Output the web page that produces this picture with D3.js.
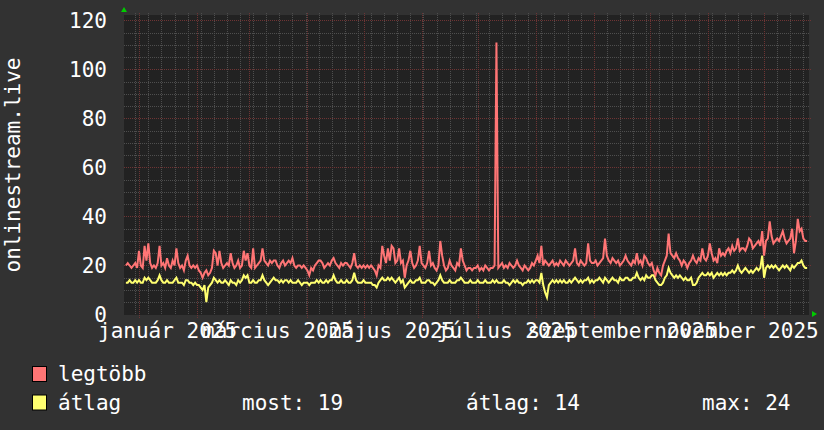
<!DOCTYPE html>
<html lang="hu">
<head>
<meta charset="UTF-8">
<title>onlinestream.live</title>
<script src="https://cdn.jsdelivr.net/npm/d3@7"></script>
<style>
  * { margin: 0; padding: 0; }
  body { background: #323232; }
  text { font-family: "DejaVu Sans Mono", monospace; fill: #ffffff; }
</style>
</head>
<body>
<script>
// napi értékek 2024-12-25-től
const startDay = new Date(Date.UTC(2024, 11, 25));

const legtobb = [
  20, 21, 20, 19, 20, 21, 19, 26, 20, 19,
  28, 22, 29, 21, 19, 20, 19, 21, 28, 20,
  21, 19, 23, 20, 19, 22, 20, 27, 21, 19,
  20, 18, 22, 24, 20, 19, 20, 19, 20, 18,
  17, 15, 17, 18, 16, 17, 19, 26, 25, 20,
  26, 21, 19, 20, 21, 20, 25, 21, 19, 20,
  22, 19, 20, 26, 22, 25, 20, 19, 27, 19,
  20, 21, 22, 27, 22, 21, 20, 22, 21, 22,
  22, 20, 19, 21, 22, 20, 21, 22, 21, 23,
  20, 19, 20, 20, 19, 20, 19, 18, 16, 19,
  18, 20, 21, 22, 22, 21, 19, 20, 21, 20,
  22, 23, 21, 20, 19, 21, 20, 21, 21, 20,
  19, 21, 25, 20, 19, 20, 19, 20, 19, 20,
  19, 20, 19, 18, 16, 20, 19, 28, 24, 21,
  27, 22, 28, 27, 21, 22, 27, 21, 22, 15,
  20, 22, 26, 21, 19, 20, 22, 28, 21, 20,
  19, 21, 26, 20, 21, 19, 18, 20, 30, 24,
  20, 18, 19, 22, 20, 19, 18, 21, 20, 27,
  22, 20, 18, 19, 19, 18, 19, 19, 20, 18,
  19, 18, 20, 19, 18, 19, 19, 20, 111, 19,
  20, 21, 19, 20, 19, 21, 20, 19, 20, 22,
  20, 19, 18, 20, 19, 18, 19, 21, 20, 22,
  24, 21, 28, 20, 22, 21, 20, 21, 22, 20,
  21, 20, 22, 21, 20, 22, 21, 20, 21, 22,
  27, 21, 20, 22, 21, 20, 21, 29, 22, 21,
  21, 22, 20, 21, 22, 23, 31, 24, 22, 21,
  23, 22, 21, 22, 20, 21, 22, 24, 22, 21,
  20, 22, 21, 25, 21, 22, 20, 24, 23, 21,
  20, 21, 18, 16, 19, 17, 16, 20, 22, 24,
  33, 25, 24, 23, 25, 23, 22, 20, 22, 21,
  19, 21, 22, 24, 22, 21, 23, 22, 27, 23,
  22, 24, 29, 25, 22, 23, 21, 27, 24, 25,
  24, 26, 27, 25, 28, 26, 27, 31, 26, 27,
  27, 26, 28, 31, 30, 27, 28, 29, 30, 28,
  34, 24, 30, 31, 38, 32, 29, 30, 31, 30,
  32, 34, 31, 29, 30, 31, 35, 25, 30, 39,
  34, 35, 31, 30, 30
];

const atlag = [
  13, 13, 14, 13, 13, 14, 13, 14, 13, 13,
  15, 14, 15, 14, 13, 13, 13, 14, 16, 14,
  13, 13, 14, 13, 13, 13, 14, 15, 13, 13,
  13, 12, 14, 14, 13, 13, 12, 13, 12, 12,
  11, 10, 12, 5, 11, 12, 13, 15, 14, 13,
  14, 13, 13, 14, 13, 12, 14, 13, 13, 12,
  14, 13, 14, 16, 15, 16, 13, 13, 14, 13,
  13, 14, 14, 16, 14, 13, 12, 13, 14, 15,
  14, 14, 13, 14, 13, 14, 14, 13, 14, 13,
  13, 13, 14, 13, 12, 13, 13, 13, 12, 13,
  13, 13, 14, 13, 14, 13, 13, 14, 13, 14,
  14, 16, 14, 13, 13, 14, 13, 13, 14, 13,
  13, 14, 17, 14, 13, 13, 13, 14, 13, 13,
  13, 13, 12, 12, 11, 13, 14, 15, 14, 14,
  15, 14, 15, 14, 13, 14, 15, 13, 14, 11,
  12, 13, 14, 13, 13, 14, 14, 15, 13, 13,
  13, 14, 14, 13, 13, 12, 13, 14, 16, 14,
  13, 13, 13, 14, 13, 13, 13, 14, 14, 15,
  14, 13, 13, 13, 14, 13, 13, 13, 14, 13,
  13, 13, 14, 13, 13, 13, 14, 13, 14, 13,
  13, 13, 14, 13, 13, 12, 13, 14, 13, 14,
  13, 13, 12, 13, 13, 14, 13, 14, 13, 14,
  14, 13, 17, 12, 9, 7, 12, 13, 14, 13,
  14, 13, 14, 13, 14, 13, 13, 14, 13, 14,
  15, 14, 13, 14, 13, 14, 14, 15, 13, 14,
  13, 14, 14, 15, 14, 13, 15, 14, 13, 14,
  15, 14, 14, 13, 15, 14, 14, 15, 15, 14,
  14, 15, 15, 17, 15, 14, 15, 14, 16, 15,
  15, 16, 16, 14, 13, 12, 12, 13, 15, 16,
  19, 17, 16, 15, 16, 15, 16, 15, 14, 15,
  14, 14, 15, 12, 12, 13, 15, 16, 17, 16,
  16, 17, 16, 17, 15, 16, 17, 16, 17, 16,
  17, 16, 17, 17, 18, 17, 18, 20, 18, 17,
  18, 19, 18, 17, 18, 17, 18, 19, 18, 19,
  24, 15, 19, 20, 19, 20, 19, 20, 19, 18,
  19, 20, 19, 20, 19, 18, 20, 19, 20, 21,
  21, 22, 20, 19, 19
];

const yTicks = [0, 20, 40, 60, 80, 100, 120];
const monthLabels = ["január 2025", "március 2025", "május 2025",
                     "július 2025", "szeptember 2025", "november 2025"];
const legendItems = ["legtöbb", "átlag"];
const stats = ["most: 19", "átlag: 14", "max: 24"];

const width = 824, height = 430;
const plotLeft = 124, plotRight = 809, plotTop = 15, plotBottom = 315;
const colRed = "#ff7575", colYellow = "#ffff70";

const svg = d3.select("body").append("svg")
    .attr("width", width).attr("height", height);

svg.append("rect").attr("width", width).attr("height", height).attr("fill", "#323232");

const x = d3.scaleUtc()
    .domain([new Date(Date.UTC(2024, 11, 24)), new Date(Date.UTC(2025, 11, 25))])
    .range([plotLeft, plotRight]);
const y = d3.scaleLinear().domain([0, 122.2]).range([314.5, plotTop]);

svg.append("rect")
    .attr("x", plotLeft).attr("y", plotTop)
    .attr("width", plotRight - plotLeft).attr("height", plotBottom - plotTop)
    .attr("fill", "#222222");

// rács
const grid = svg.append("g").attr("shape-rendering", "crispEdges");
const minorY = d3.range(5, 122, 5).filter(v => v % 20 !== 0);
grid.selectAll(".hmin").data(minorY).join("line")
    .attr("x1", plotLeft).attr("x2", plotRight)
    .attr("y1", d => Math.round(y(d)) + 0.5).attr("y2", d => Math.round(y(d)) + 0.5)
    .attr("stroke", "#4e4e4e").attr("stroke-dasharray", "1,1");
grid.selectAll(".vmin").data(d3.utcMonday.range(x.domain()[0], x.domain()[1])).join("line")
    .attr("x1", d => Math.round(x(d)) + 0.5).attr("x2", d => Math.round(x(d)) + 0.5)
    .attr("y1", plotTop - 2).attr("y2", plotBottom)
    .attr("stroke", "#4e4e4e").attr("stroke-dasharray", "1,1");
grid.selectAll(".hmaj").data(yTicks.slice(1)).join("line")
    .attr("x1", plotLeft).attr("x2", plotRight + 2)
    .attr("y1", d => Math.round(y(d)) + 0.5).attr("y2", d => Math.round(y(d)) + 0.5)
    .attr("stroke", "#6e3434").attr("stroke-dasharray", "1,1");
grid.selectAll(".vmaj").data(d3.utcMonth.range(x.domain()[0], x.domain()[1])).join("line")
    .attr("x1", d => Math.round(x(d)) + 0.5).attr("x2", d => Math.round(x(d)) + 0.5)
    .attr("y1", plotTop - 2).attr("y2", plotBottom + 3)
    .attr("stroke", "#6e3434").attr("stroke-dasharray", "1,1");

// tengelyek
const yAxis = svg.append("g")
    .attr("transform", `translate(${plotLeft},0)`)
    .call(d3.axisLeft(y).tickValues(yTicks).tickSize(0).tickPadding(17));
yAxis.select(".domain").remove();
yAxis.selectAll("text")
    .attr("font-family", "DejaVu Sans Mono").attr("font-size", 21)
    .attr("fill", "#ffffff").attr("dy", "0.35em");

const labelDates = d3.utcMonth.every(2).range(new Date(Date.UTC(2025, 0, 1)), new Date(Date.UTC(2025, 11, 1)))
    .map(d => d3.utcDay.offset(d, 15));
const xAxis = svg.append("g")
    .attr("transform", `translate(0,${plotBottom})`)
    .call(d3.axisBottom(x).tickValues(labelDates).tickSize(0).tickPadding(0)
        .tickFormat((d, i) => monthLabels[i]));
xAxis.select(".domain").remove();
xAxis.selectAll("text")
    .attr("font-family", "DejaVu Sans Mono").attr("font-size", 21)
    .attr("fill", "#ffffff").attr("dy", null).attr("y", 23);

// nyilak
svg.append("path").attr("d", `M${plotLeft - 3},${plotTop - 3}L${plotLeft + 3},${plotTop - 3}L${plotLeft},${plotTop - 8}Z`).attr("fill", "#00cc00");
svg.append("path").attr("d", `M${plotRight + 3},${plotBottom - 4}L${plotRight + 3},${plotBottom + 2}L${plotRight + 8},${plotBottom - 1}Z`).attr("fill", "#00cc00");

// vonalak
const line = d3.line()
    .x((d, i) => x(d3.utcDay.offset(startDay, i)))
    .y(d => y(d));
svg.append("path").datum(atlag)
    .attr("d", line).attr("fill", "none")
    .attr("stroke", colYellow).attr("stroke-width", 2);
svg.append("path").datum(legtobb)
    .attr("d", line).attr("fill", "none")
    .attr("stroke", colRed).attr("stroke-width", 2);

// y tengely címe
svg.append("text")
    .attr("transform", "translate(20,165) rotate(-90)")
    .attr("text-anchor", "middle")
    .attr("font-size", 21)
    .text("onlinestream.live");

// jelmagyarázat
const legend = svg.append("g");
legend.selectAll("rect").data(legendItems).join("rect")
    .attr("x", 32.5).attr("y", (d, i) => 366.5 + i * 28.5)
    .attr("width", 14).attr("height", 15)
    .attr("fill", (d, i) => i === 0 ? colRed : colYellow)
    .attr("stroke", "#000000");
legend.selectAll("text").data(legendItems).join("text")
    .attr("x", 58).attr("y", (d, i) => 381 + i * 28.5)
    .attr("font-size", 21)
    .text(d => d);
svg.selectAll(".stat").data(stats).join("text")
    .attr("class", "stat")
    .attr("x", (d, i) => [242, 466, 702][i]).attr("y", 409.5)
    .attr("font-size", 21)
    .text(d => d);
</script>
</body>
</html>
